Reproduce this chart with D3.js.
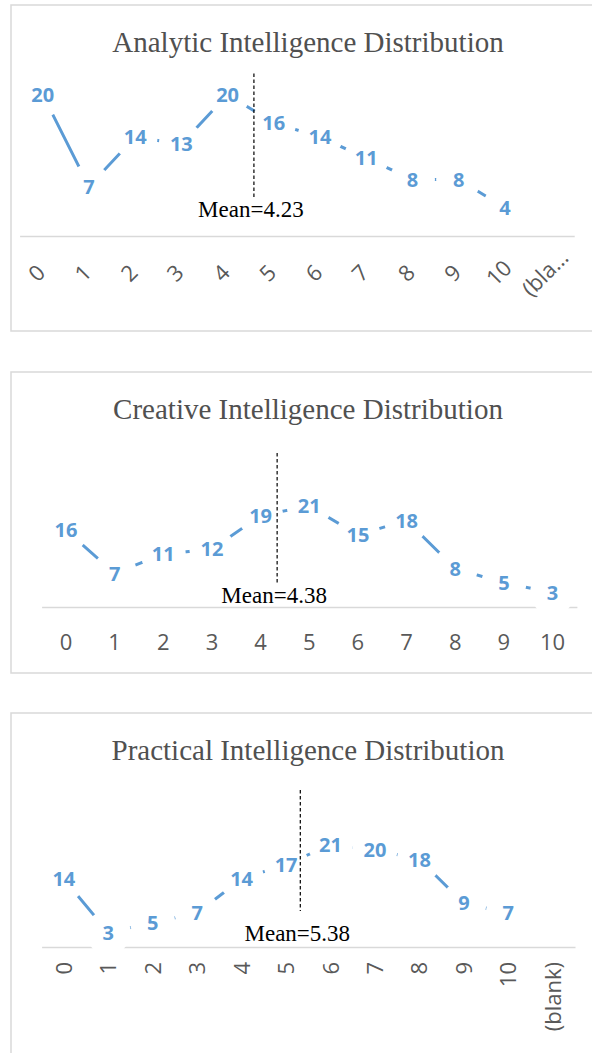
<!DOCTYPE html>
<html>
<head>
<meta charset="utf-8">
<script src="https://cdn.jsdelivr.net/npm/d3@7"></script>
<style>
  html, body { margin: 0; padding: 0; background: #fff; }
  svg { display: block; }
</style>
</head>
<body>
<svg id="chart" width="592" height="1053"></svg>
<script>
// ---------- data ----------
const analyticCategories = ["0","1","2","3","4","5","6","7","8","9","10","(blank)"];
const analyticValues     = [20, 7, 14, 13, 20, 16, 14, 11, 8, 8, 4];

const creativeCategories = ["0","1","2","3","4","5","6","7","8","9","10"];
const creativeValues     = [16, 7, 11, 12, 19, 21, 15, 18, 8, 5, 3];

const practicalCategories = ["0","1","2","3","4","5","6","7","8","9","10","(blank)"];
const practicalValues     = [14, 3, 5, 7, 14, 17, 21, 20, 18, 9, 7];

const chartTitles = ["Analytic Intelligence Distribution",
                     "Creative Intelligence Distribution",
                     "Practical Intelligence Distribution"];
const meanValues      = [4.23, 4.38, 5.38];
// where the dashed mean marker sits on the category axis, as drawn in the source
const meanLinePos     = [4.57, 4.34, 5.32];
const meanLineSpan    = [[5.5, 23.0], [5.0, 32.0], [7.4, 32.3]];
const meanLabelLevel  = [2.7, 0.8, 1.2];

// ---------- layout ----------
const layouts = [
  { box:[11, 5, 605, 331],    titleY: 52,  axisY: 236, xRange:[19.6, 574.2], yTop: 25, yPx: 7.07,
    tick:{ rot:-45, dx:-6, dy:37, anchor:"middle", dyem:"0.35em", truncate:5 } },
  { box:[11, 372, 605, 673],  titleY: 419, axisY: 607, xRange:[41.6, 576.9], yTop: 35, yPx: 4.81,
    tick:{ rot:0, dx:0, dy:43, anchor:"middle", dyem:null } },
  { box:[11, 713, 605, 1070], titleY: 760, axisY: 947, xRange:[41.6, 575.0], yTop: 35, yPx: 4.86,
    tick:{ rot:-90, dx:8, dy:15, anchor:"end", dyem:null } }
];

const series = [
  { cats: analyticCategories,  vals: analyticValues },
  { cats: creativeCategories,  vals: creativeValues },
  { cats: practicalCategories, vals: practicalValues }
];

const BLUE = "#5B9BD5";
const svg = d3.select("#chart");

series.forEach((s, i) => {
  const L = layouts[i];
  const g = svg.append("g");

  // frame
  g.append("rect")
    .attr("x", L.box[0]).attr("y", L.box[1])
    .attr("width", L.box[2] - L.box[0]).attr("height", L.box[3] - L.box[1])
    .attr("fill", "#fff").attr("stroke", "#d9d9d9").attr("stroke-width", 1.5);

  // title
  g.append("text")
    .attr("x", 308).attr("y", L.titleY)
    .attr("text-anchor", "middle")
    .attr("font-family", "'Liberation Serif', 'Times New Roman', serif")
    .attr("font-size", 29).attr("fill", "#505050")
    .text(chartTitles[i]);

  // scales
  const x = d3.scaleBand().domain(s.cats).range(L.xRange).padding(0);
  const cx = c => x(c) + x.bandwidth() / 2;
  const xPos = d3.scaleLinear().domain([0, s.cats.length - 1])
    .range([cx(s.cats[0]), cx(s.cats[s.cats.length - 1])]);
  const y = d3.scaleLinear().domain([0, L.yTop]).range([L.axisY, L.axisY - L.yTop * L.yPx]);

  // axis
  const axis = d3.axisBottom(x).tickSize(0).tickSizeOuter(0)
    .tickFormat(d => (L.tick.truncate && d.length > L.tick.truncate) ? d.slice(0, 4) + "…" : d);
  const ag = g.append("g").attr("transform", `translate(0,${L.axisY})`).call(axis);
  ag.select(".domain").attr("stroke", "#d9d9d9").attr("stroke-width", 1.4);
  ag.selectAll(".tick line").remove();
  ag.selectAll(".tick text")
    .attr("font-family", "'Open Sans', sans-serif")
    .attr("font-size", 22)
    .attr("fill", "#595959")
    .attr("text-anchor", L.tick.anchor)
    .attr("y", null).attr("dy", L.tick.dyem)
    .attr("transform", `translate(${L.tick.dx},${L.tick.dy}) rotate(${L.tick.rot})`);

  const pts = s.vals.map((v, k) => ({ c: s.cats[k], v }));

  // series line
  const line = d3.line().x(d => cx(d.c)).y(d => y(d.v));
  g.append("path").datum(pts)
    .attr("d", line)
    .attr("fill", "none").attr("stroke", BLUE).attr("stroke-width", 3);

  // data label backgrounds (white, hide the line around each label)
  g.selectAll("circle.lbl").data(pts).enter().append("circle")
    .attr("class", "lbl")
    .attr("cx", d => cx(d.c)).attr("cy", d => y(d.v))
    .attr("r", 22.5).attr("fill", "#fff");

  // data labels
  g.selectAll("text.lbl").data(pts).enter().append("text")
    .attr("class", "lbl")
    .attr("x", d => cx(d.c)).attr("y", d => y(d.v))
    .attr("dy", "0.36em")
    .attr("text-anchor", "middle")
    .attr("font-family", "'Open Sans', sans-serif")
    .attr("font-weight", 700)
    .attr("font-size", 20)
    .attr("fill", BLUE)
    .text(d => d.v);

  // mean marker
  const mx = xPos(meanLinePos[i]);
  g.append("line")
    .attr("x1", mx).attr("x2", mx)
    .attr("y1", y(meanLineSpan[i][1])).attr("y2", y(meanLineSpan[i][0]))
    .attr("stroke", "#000").attr("stroke-width", 1.2)
    .attr("stroke-dasharray", "3.5,2.5");

  g.append("text")
    .attr("x", mx - 3).attr("y", y(meanLabelLevel[i]))
    .attr("text-anchor", "middle")
    .attr("font-family", "'Liberation Serif', 'Times New Roman', serif")
    .attr("font-size", 23).attr("fill", "#000")
    .text("Mean=" + meanValues[i]);
});
</script>
</body>
</html>
